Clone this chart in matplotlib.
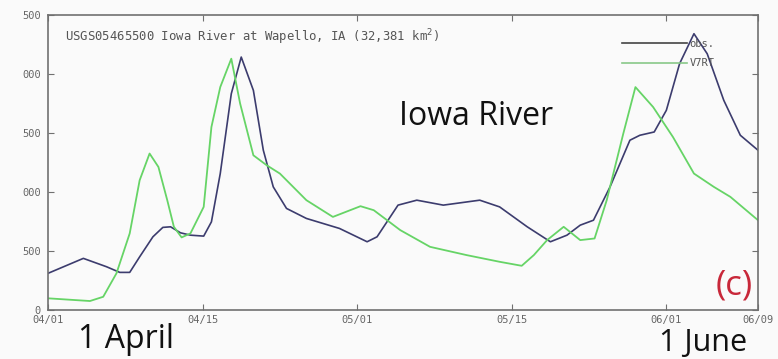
import matplotlib
matplotlib.use("Agg")
import matplotlib.pyplot as plt
from matplotlib.lines import Line2D

# ---- data (day since 04/01, discharge) ----
obs_day = [0, 3.2, 5.3, 6.5, 7.4, 8.3, 9.5, 10.4, 11.1, 12.0, 12.9, 14.1, 14.8, 15.6, 16.6, 17.5,
           18.6, 19.5, 20.4, 21.6, 23.4, 26.4, 28.9, 29.8, 31.7, 33.4, 35.8, 39.1, 40.9, 43.4,
           45.5, 47.0, 48.2, 49.4, 50.9, 52.7, 53.6, 54.9, 56.0, 57.2, 58.5, 59.7, 61.2, 62.7, 64.3]
obs_val = [307, 434, 363, 315, 315, 447, 617, 697, 702, 651, 631, 623, 744, 1154, 1832, 2143,
           1860, 1352, 1041, 858, 773, 688, 575, 617, 886, 928, 886, 928, 871, 702,
           575, 631, 716, 758, 1041, 1437, 1479, 1507, 1691, 2087, 2341, 2171, 1776, 1479, 1352]

v7_day = [0, 2.3, 3.8, 5.0, 6.2, 7.4, 8.3, 9.2, 10.0, 10.8, 11.4, 12.1, 12.9, 14.1, 14.8, 15.6,
          16.6, 17.4, 18.6, 19.8, 21.0, 23.4, 25.8, 28.3, 29.5, 31.9, 34.6, 37.9, 40.9, 42.9,
          44.0, 45.2, 46.7, 48.2, 49.5, 50.6, 52.1, 53.2, 54.8, 56.6, 58.5, 60.3, 61.8, 64.3]
v7_val = [95, 81, 72, 108, 307, 646, 1097, 1324, 1210, 928, 702, 612, 646, 871, 1549, 1888,
          2129, 1748, 1309, 1225, 1154, 928, 786, 877, 843, 674, 532, 462, 405, 371,
          462, 589, 702, 589, 603, 928, 1493, 1888, 1719, 1464, 1154, 1041, 956, 758]

x_ticks = [0, 14, 28, 42, 56, 64.3]
x_labels = ["04/01", "04/15", "05/01", "05/15", "06/01", "06/09"]
y_ticks = [0, 500, 1000, 1500, 2000, 2500]
y_labels = ["0", "500", "000", "500", "000", "500"]

obs_color = "#3c3c6e"
v7_color = "#66d466"
axis_color = "#707070"
tick_font = dict(family="DejaVu Sans Mono", size=7.5, color="#666666")

fig = plt.figure(figsize=(7.78, 3.59), dpi=100, facecolor="#fafafa")
ax = fig.add_axes([48/778, 49.5/359, 710/778, 294.5/359], facecolor="#fafafa")

ax.plot(obs_day, obs_val, color=obs_color, lw=1.2)
ax.plot(v7_day, v7_val, color=v7_color, lw=1.3)

ax.set_xlim(0, 64.3)
ax.set_ylim(0, 2500)
ax.set_xticks(x_ticks)
ax.set_xticklabels(x_labels, fontdict=tick_font)
ax.set_yticks(y_ticks)
ax.set_yticklabels(y_labels, fontdict=tick_font)
ax.tick_params(direction="in", length=4, width=0.8, color=axis_color,
               top=True, right=True)
ax.tick_params(axis="x", pad=4)
ax.tick_params(axis="y", pad=5)
for s in ax.spines.values():
    s.set_color(axis_color)
    s.set_linewidth(1.2)

# title inside
ax.text(17/710, 1 - 22/294.5, "USGS05465500 Iowa River at Wapello, IA (32,381 km$^{2}$)",
        transform=ax.transAxes, fontsize=8.8, family="DejaVu Sans Mono", color="#555555",
        va="center", ha="left")

# legend (gnuplot style)
leg = ax.legend([Line2D([], [], color="#444444", lw=1.2),
                 Line2D([], [], color="#88c888", lw=1.2)],
                ["obs.", "V7RT"], loc="upper left", bbox_to_anchor=(0.8085, 0.92),
                frameon=False, prop=dict(family="DejaVu Sans Mono", size=7.5),
                handlelength=6.2, handletextpad=0.3, labelspacing=0.95,
                borderaxespad=0, borderpad=0)
for t in leg.get_texts():
    t.set_color("#555555")

ax.text(0.6035, 0.655, "Iowa River", transform=ax.transAxes, fontsize=23,
        family="Open Sans", ha="center", va="center", color="#111111")
ax.text(0.993, 0.08, "(c)", transform=ax.transAxes, fontsize=25,
        family="Open Sans", ha="right", va="center", color="#c8283a")

fig.text(126/778, 1 - 340/359, "1 April", fontsize=23, family="Open Sans",
         ha="center", va="center", color="#111111")
fig.text(703/778, 1 - 343/359, "1 June", fontsize=22, family="Open Sans",
         ha="center", va="center", color="#111111")

fig.savefig("out.png", dpi=100, facecolor=fig.get_facecolor())
